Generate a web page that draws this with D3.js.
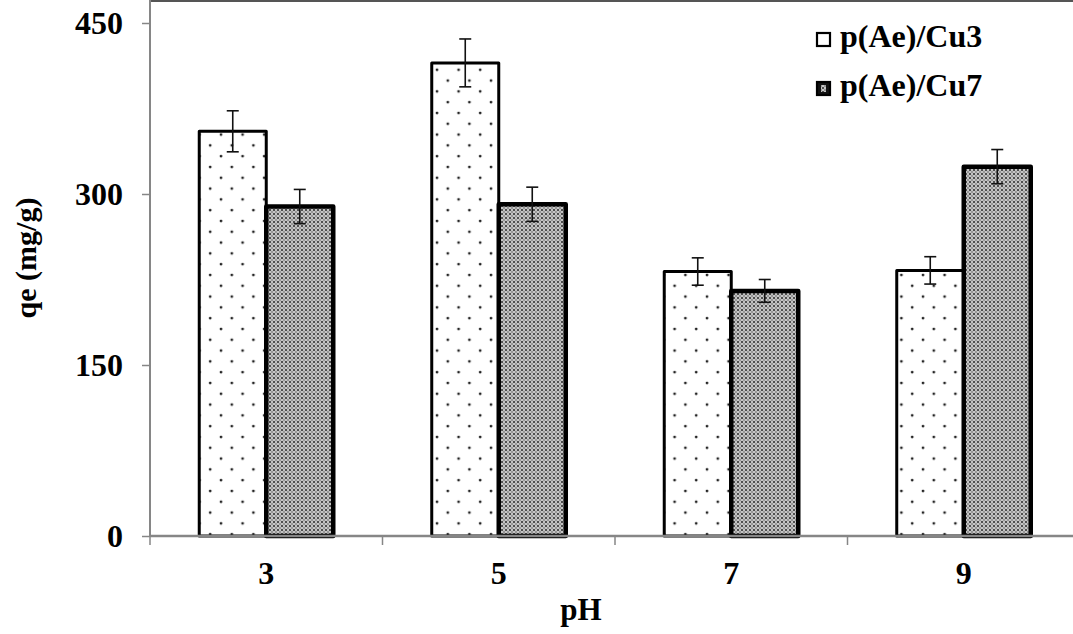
<!DOCTYPE html>
<html lang="en">
<head>
<meta charset="UTF-8">
<title>qe vs pH</title>
<script src="https://d3js.org/d3.v7.min.js"></script>
<style>
html,body{margin:0;padding:0;background:#fff}
svg{display:block}
text{font-family:"Liberation Serif","Times New Roman",serif;font-weight:bold;fill:#000}
.axis path,.axis line{stroke:#868686}
</style>
</head>
<body>
<div id="chart"></div>
<script>
// data
var phLevels = ['3', '5', '7', '9'];
var seriesNames = ['p(Ae)/Cu3', 'p(Ae)/Cu7'];
var cu3Values = [355, 415, 232, 233];
var cu7Values = [289, 291, 215, 324];
var cu3Errors = [18, 21, 12, 12];
var cu7Errors = [15, 15, 10, 15];
var yTicks = [0, 150, 300, 450];

var W = 1073, H = 634;
var svg = d3.select('#chart').append('svg').attr('width', W).attr('height', H);

// patterns: sparse dots for Cu3, dense dots for Cu7
var defs = svg.append('defs');
var p1 = defs.append('pattern').attr('id', 'sparse').attr('patternUnits', 'userSpaceOnUse')
  .attr('width', 21.6).attr('height', 21.6);
p1.append('rect').attr('width', 21.6).attr('height', 21.6).attr('fill', '#fff');
p1.append('circle').attr('cx', 5).attr('cy', 5).attr('r', 1.4).attr('fill', '#222');
p1.append('circle').attr('cx', 15.8).attr('cy', 15.8).attr('r', 1.4).attr('fill', '#222');

var p2 = defs.append('pattern').attr('id', 'dense').attr('patternUnits', 'userSpaceOnUse')
  .attr('width', 4).attr('height', 4);
p2.append('rect').attr('width', 4).attr('height', 4).attr('fill', '#8e8e8e');
p2.append('circle').attr('cx', 2).attr('cy', 2).attr('r', 1.7).attr('fill', '#f2f2f2');
p2.append('circle').attr('cx', 2).attr('cy', 2).attr('r', 1).attr('fill', '#1a1a1a');

var x = d3.scaleBand().domain(phLevels).range([150, 1080]).padding(0);
var x1 = d3.scaleBand().domain(seriesNames).range([0, x.bandwidth()])
  .paddingInner(0).paddingOuter(0.735);
var y = d3.scaleLinear().domain([0, 450]).range([536, 23]);

// top frame line
svg.append('line').attr('x1', 150).attr('x2', W).attr('y1', 1).attr('y2', 1)
  .attr('stroke', '#555').attr('stroke-width', 2);

// y axis
var yAxis = svg.append('g').attr('class', 'axis').attr('transform', 'translate(150,0)')
  .call(d3.axisLeft(y).tickValues(yTicks).tickSize(8).tickPadding(19).tickSizeOuter(0));
yAxis.select('.domain').attr('d', 'M0,0V536').attr('stroke-width', 2);
yAxis.selectAll('.tick line').attr('stroke-width', 1.5);
yAxis.selectAll('text').attr('font-size', 32).attr('fill', '#000').attr('dy', '0.34em');

var series = [
  { name: seriesNames[0], values: cu3Values, errors: cu3Errors, fill: 'url(#sparse)', sw: 3 },
  { name: seriesNames[1], values: cu7Values, errors: cu7Errors, fill: 'url(#dense)', sw: 4.5 }
];

// bars
series.forEach(function(s) {
  var g = svg.append('g');
  g.selectAll('rect').data(phLevels).join('rect')
    .attr('x', function(d) { return x(d) + x1(s.name); })
    .attr('y', function(d, i) { return y(s.values[i]); })
    .attr('width', x1.bandwidth())
    .attr('height', function(d, i) { return y(0) - y(s.values[i]); })
    .attr('fill', s.fill)
    .attr('stroke', '#000').attr('stroke-width', s.sw).attr('stroke-linejoin', 'round');
});

// error bars
series.forEach(function(s) {
  var g = svg.append('g').attr('stroke', '#111').attr('stroke-width', 1.6);
  phLevels.forEach(function(d, i) {
    var cx = x(d) + x1(s.name) + x1.bandwidth() / 2;
    var hi = y(s.values[i] + s.errors[i]), lo = y(s.values[i] - s.errors[i]);
    g.append('line').attr('x1', cx).attr('x2', cx).attr('y1', hi).attr('y2', lo);
    g.append('line').attr('x1', cx - 6).attr('x2', cx + 6).attr('y1', hi).attr('y2', hi);
    g.append('line').attr('x1', cx - 6).attr('x2', cx + 6).attr('y1', lo).attr('y2', lo);
  });
});

// x axis: line, boundary ticks, centred labels
var xg = svg.append('g').attr('class', 'axis');
xg.append('line').attr('x1', 150).attr('x2', W).attr('y1', y(0)).attr('y2', y(0))
  .attr('stroke-width', 2.5).attr('stroke', '#6a6a6a');
xg.selectAll('.xt').data(phLevels).join('line').attr('class', 'xt')
  .attr('x1', function(d) { return x(d); }).attr('x2', function(d) { return x(d); })
  .attr('y1', y(0)).attr('y2', y(0) + 9).attr('stroke-width', 1.5);
xg.selectAll('text').data(phLevels).join('text')
  .attr('x', function(d) { return x(d) + x.bandwidth() / 2; })
  .attr('y', 584).attr('text-anchor', 'middle').attr('font-size', 32)
  .text(function(d) { return d; });

// axis titles
svg.append('text').attr('x', 581).attr('y', 620).attr('text-anchor', 'middle')
  .attr('font-size', 31).text('pH');
svg.append('text').attr('transform', 'translate(36,258) rotate(-90)')
  .attr('text-anchor', 'middle').attr('font-size', 30).text('qe (mg/g)');

// legend
var lg = svg.append('g').selectAll('g').data(series).join('g')
  .attr('transform', function(d, i) { return 'translate(817,' + (33 + i * 49) + ')'; });
lg.append('rect').attr('width', 13).attr('height', 13)
  .attr('fill', function(d, i) { return i ? '#111' : '#fff'; })
  .attr('stroke', '#000').attr('stroke-width', 2.2);
lg.filter(function(d, i) { return i === 1; }).append('rect')
  .attr('x', 4).attr('y', 3).attr('width', 5).attr('height', 7).attr('fill', 'url(#dense)');
lg.append('text').attr('x', 23).attr('y', 14).attr('font-size', 32)
  .text(function(d) { return d.name; });
</script>
</body>
</html>
